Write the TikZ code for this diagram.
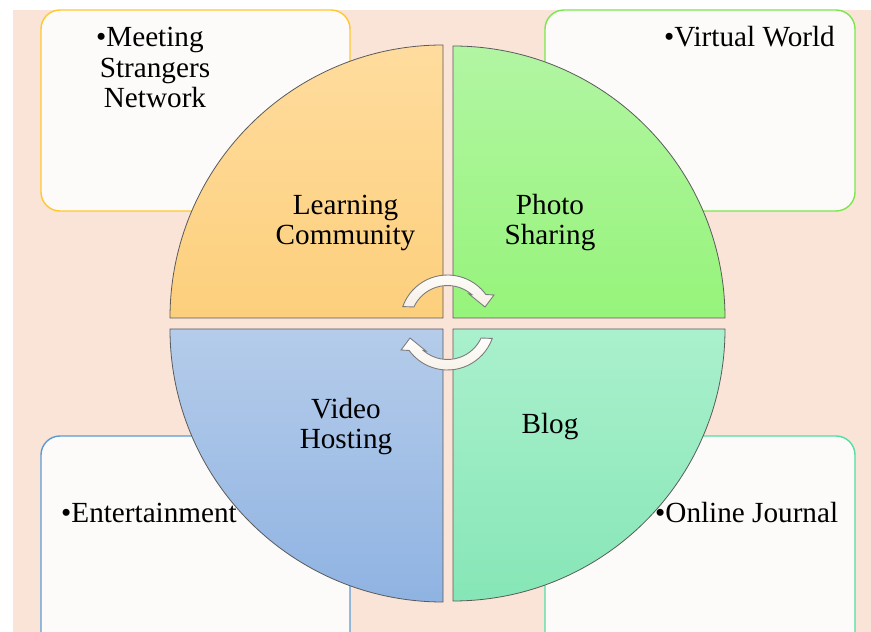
\documentclass[tikz,border=0pt]{standalone}
\usepackage{fontspec}
\setmainfont{Liberation Serif}
\usetikzlibrary{calc}
\definecolor{bgpeach}{HTML}{FAE4D7}
\definecolor{boxfill}{HTML}{FDFBFA}
\definecolor{bordTL}{HTML}{FFC82E}
\definecolor{bordTR}{HTML}{78E84A}
\definecolor{bordBL}{HTML}{5B9BD5}
\definecolor{bordBR}{HTML}{4FE0A0}
\definecolor{qTLtop}{HTML}{FFDC9E}
\definecolor{qTLbot}{HTML}{FCCF7C}
\definecolor{qTRtop}{HTML}{B2F5A3}
\definecolor{qTRbot}{HTML}{96F47A}
\definecolor{qBLtop}{HTML}{B5CCEA}
\definecolor{qBLbot}{HTML}{8FB3E2}
\definecolor{qBRtop}{HTML}{AAF0CD}
\definecolor{qBRbot}{HTML}{86E6B6}
\definecolor{quadline}{HTML}{5A5A5A}
\definecolor{arrowline}{HTML}{7C7C7C}
\definecolor{arrowtop}{HTML}{FFFEFC}
\definecolor{arrowbot}{HTML}{F6EFE6}
\begin{document}
\begin{tikzpicture}[x=1pt,y=1pt,
  panel/.style={fill=boxfill, line width=1.4pt, rounded corners=19pt},
  quad/.style={draw=quadline, line width=0.8pt},
  lbl/.style={font=\fontsize{29.2}{30.5}\selectfont, align=center, inner sep=0pt},
  cycarrow/.style={draw=arrowline, line width=0.9pt, top color=arrowtop, bottom color=arrowbot}]
\useasboundingbox (0,0) rectangle (871,632);
\clip (0,0) rectangle (871,632);
% background
\fill[bgpeach] (13,0) rectangle (871,622);
% panels
\draw[panel, draw=bordTL] (41,421) rectangle (350,622);
\draw[panel, draw=bordTR] (545,421) rectangle (855,622);
\draw[panel, draw=bordBL] (41,-30) rectangle (350,196);
\draw[panel, draw=bordBR] (545,-30) rectangle (855,196);
% quadrants
\draw[quad, top color=qTLtop, bottom color=qTLbot] (443,314) -- (170,314) arc[start angle=180,end angle=90,radius=273] -- cycle;
\draw[quad, top color=qTRtop, bottom color=qTRbot] (453,314) -- (453,586) arc[start angle=90,end angle=0,radius=272] -- cycle;
\draw[quad, top color=qBLtop, bottom color=qBLbot] (443,303) -- (443,30) arc[start angle=270,end angle=180,radius=273] -- cycle;
\draw[quad, top color=qBRtop, bottom color=qBRbot] (453,303) -- (725,303) arc[start angle=0,end angle=-90,radius=272] -- cycle;
% circular arrows
\coordinate (C) at (447.5,309.5);
\draw[cycarrow] ($(C)+(160.4:47.5)$) arc[start angle=160.4,end angle=36.1,radius=47.5]
  -- ($(C)+(46.5,27.5)$) -- ($(C)+(37.5,15.5)$) -- ($(C)+(21.5,28.5)$)
  -- ($(C)+(49.2:37)$) arc[start angle=49.2,end angle=155.2,radius=37] -- cycle;
\begin{scope}[rotate around={180:(C)}]
\draw[cycarrow] ($(C)+(160.4:47.5)$) arc[start angle=160.4,end angle=36.1,radius=47.5]
  -- ($(C)+(46.5,27.5)$) -- ($(C)+(37.5,15.5)$) -- ($(C)+(21.5,28.5)$)
  -- ($(C)+(49.2:37)$) arc[start angle=49.2,end angle=155.2,radius=37] -- cycle;
\end{scope}
% quadrant labels (base anchor = last line baseline)
\node[lbl, anchor=base] (learn) at (345.5,387) {Learning\\Community};
\node[lbl, anchor=base] (photo) at (550,387) {Photo\\Sharing};
\node[lbl, anchor=base] (video) at (346,183) {Video\\Hosting};
\node[lbl, anchor=base] (blog) at (550,198) {Blog};
% panel texts
\node[lbl, anchor=base] (meet) at (155,524) {\llap{•}Meeting\\Strangers\\Network};
\node[lbl, anchor=base east] (virt) at (835,585) {•Virtual World};
\node[lbl, anchor=base west] (ent) at (61,109) {•Entertainment};
\node[lbl, anchor=base west] (jour) at (655,109) {•Online Journal};
\end{tikzpicture}
\end{document}
